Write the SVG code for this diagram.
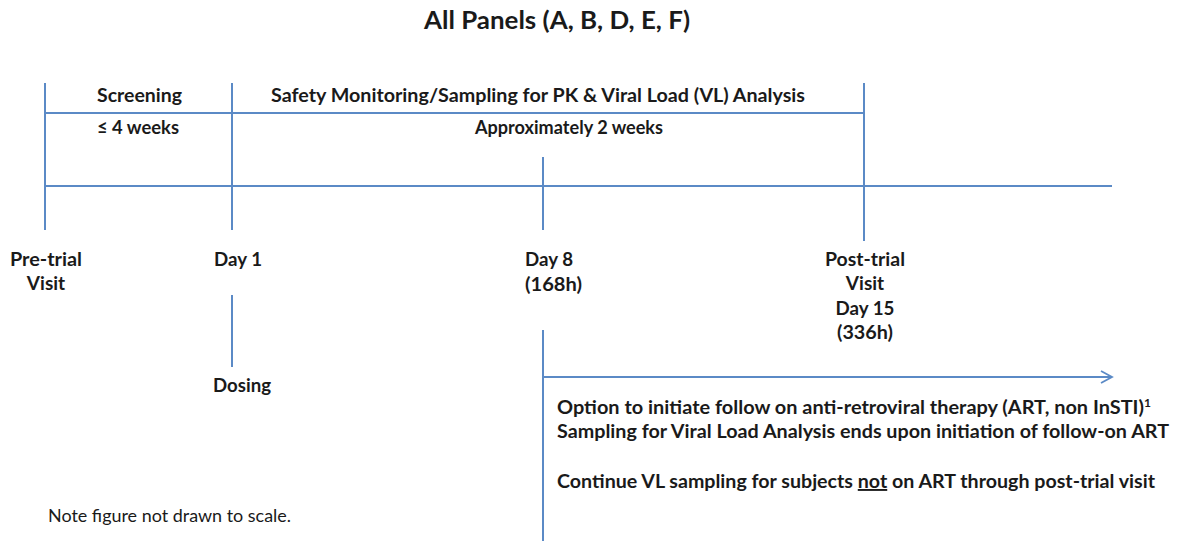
<svg xmlns="http://www.w3.org/2000/svg" width="1178" height="541" viewBox="0 0 1178 541">
<defs>
<style>
.ln{stroke:#5b8ac6;stroke-width:2;fill:none}
.b{font-family:Lato,"Open Sans","Liberation Sans",sans-serif;font-weight:bold;font-size:19px;fill:#1a1a1a}
.r{font-family:Lato,"Open Sans","Liberation Sans",sans-serif;font-size:17px;fill:#1a1a1a}
.t{font-family:Lato,"Open Sans","Liberation Sans",sans-serif;font-weight:bold;font-size:25px;fill:#1a1a1a}
</style>
<marker id="open" markerWidth="14" markerHeight="14" refX="12" refY="7" orient="auto" markerUnits="userSpaceOnUse">
<path d="M1,1 L12,7 L1,13" fill="none" stroke="#5b8ac6" stroke-width="1.8"/>
</marker>
</defs>
<rect width="1178" height="541" fill="#ffffff"/>
<text class="t" x="557" y="29" text-anchor="middle" textLength="266" lengthAdjust="spacingAndGlyphs">All Panels (A, B, D, E, F)</text>
<g id="connectors">
<line class="ln" x1="45" y1="113" x2="864" y2="113"/>
<line class="ln" x1="45" y1="186" x2="1112" y2="186"/>
<line class="ln" x1="45" y1="83" x2="45" y2="230"/>
<line class="ln" x1="232" y1="83" x2="232" y2="230"/>
<line class="ln" x1="543" y1="157" x2="543" y2="230"/>
<line class="ln" x1="864" y1="83" x2="864" y2="241"/>
<line class="ln" x1="232" y1="295" x2="232" y2="367"/>
<line class="ln" x1="543" y1="330" x2="543" y2="541"/>
<line class="ln" x1="543" y1="377" x2="1112" y2="377" marker-end="url(#open)"/>
</g>
<g id="screening">
<text class="b" x="139.5" y="102" text-anchor="middle" textLength="85" lengthAdjust="spacingAndGlyphs">Screening</text>
<text class="b" x="138" y="134" text-anchor="middle" textLength="82" lengthAdjust="spacingAndGlyphs">≤ 4 weeks</text>
</g>
<g id="safety">
<text class="b" x="538" y="102" text-anchor="middle" textLength="534" lengthAdjust="spacingAndGlyphs">Safety Monitoring/Sampling for PK &amp; Viral Load (VL) Analysis</text>
<text class="b" x="569" y="134" text-anchor="middle" textLength="188" lengthAdjust="spacingAndGlyphs">Approximately 2 weeks</text>
</g>
<g id="pretrial">
<text class="b" x="46" y="266" text-anchor="middle" textLength="72" lengthAdjust="spacingAndGlyphs">Pre-trial</text>
<text class="b" x="46" y="290" text-anchor="middle">Visit</text>
</g>
<g id="day1">
<text class="b" x="238" y="266" text-anchor="middle" textLength="48" lengthAdjust="spacingAndGlyphs">Day 1</text>
<text class="b" x="242" y="392" text-anchor="middle" textLength="58" lengthAdjust="spacingAndGlyphs">Dosing</text>
</g>
<g id="day8">
<text class="b" x="525" y="266" textLength="48" lengthAdjust="spacingAndGlyphs">Day 8</text>
<text class="b" x="525" y="291" textLength="57" lengthAdjust="spacingAndGlyphs">(168h)</text>
</g>
<g id="posttrial">
<text class="b" x="865" y="266" text-anchor="middle" textLength="80" lengthAdjust="spacingAndGlyphs">Post-trial</text>
<text class="b" x="865" y="290" text-anchor="middle">Visit</text>
<text class="b" x="865" y="315" text-anchor="middle" textLength="59" lengthAdjust="spacingAndGlyphs">Day 15</text>
<text class="b" x="865" y="339" text-anchor="middle" textLength="56" lengthAdjust="spacingAndGlyphs">(336h)</text>
</g>
<g id="followon">
<text class="b" x="557" y="414"><tspan textLength="587" lengthAdjust="spacingAndGlyphs">Option to initiate follow on anti-retroviral therapy (ART, non InSTI)</tspan><tspan font-size="12" dy="-7">1</tspan></text>
<text class="b" x="557" y="438" textLength="612" lengthAdjust="spacingAndGlyphs">Sampling for Viral Load Analysis ends upon initiation of follow-on ART</text>
<text class="b" x="557" y="488" textLength="598" lengthAdjust="spacingAndGlyphs">Continue VL sampling for subjects <tspan text-decoration="underline">not</tspan> on ART through post-trial visit</text>
</g>
<g id="note">
<text class="r" x="48" y="522" textLength="243" lengthAdjust="spacingAndGlyphs">Note figure not drawn to scale.</text>
</g>
</svg>
